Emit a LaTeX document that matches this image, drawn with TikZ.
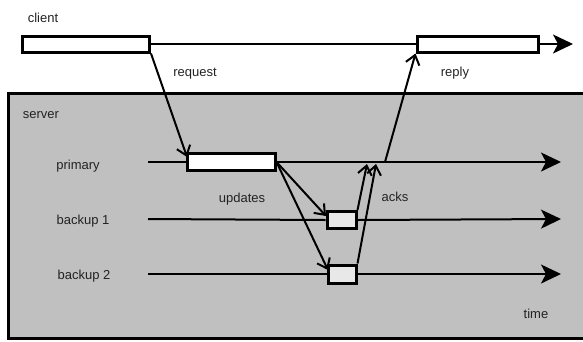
\documentclass[tikz,border=0pt]{standalone}
\usepackage{fontspec}
\setmainfont{Liberation Sans}
\usetikzlibrary{arrows.meta}
\definecolor{servergray}{HTML}{C0C0C0}
\definecolor{backupfill}{HTML}{E8E8E8}
\definecolor{labelink}{HTML}{222222}
\begin{document}
\begin{tikzpicture}[x=1pt,y=-1pt,
  lbl/.style={font=\fontsize{13}{15}\selectfont, text=labelink, inner sep=0pt},
  activity/.style={draw=black, line width=3pt, fill=white, rectangle, inner sep=0pt},
  timeline/.style={line width=2pt},
  timearrow/.style={line width=2pt, -{Stealth[length=20pt,width=19pt,inset=5pt]}},
  msg/.style={line width=2pt, -{Straight Barb[length=9pt,width=14pt,line width=2pt]}}]
\useasboundingbox (0,0) rectangle (583,341);

% server area
\fill[servergray] (8,93) rectangle (600,338);
\draw[line width=3pt] (600,93) -- (8,93) -- (8,338) -- (600,338);

% activity boxes
\node[activity, minimum width=127pt, minimum height=16pt] (clientbox) at (86,44) {};
\node[activity, minimum width=121pt, minimum height=16pt] (replybox) at (477.5,44) {};
\node[activity, minimum width=88pt, minimum height=17pt] (primarybox) at (231,162) {};
\node[activity, fill=backupfill, minimum width=29pt, minimum height=17pt] (bonebox) at (341.5,220) {};
\node[activity, fill=backupfill, minimum width=28pt, minimum height=18pt] (btwobox) at (342,274) {};

% timeline ends
\coordinate (clientend) at (573,44);
\coordinate (pstart) at (148,162);
\coordinate (pend) at (561,162);
\coordinate (bonestart) at (148,219);
\coordinate (boneend) at (561,219);
\coordinate (btwostart) at (148,274);
\coordinate (btwoend) at (561,274);

% message points on the primary timeline
\coordinate (reqtip) at (187,157);
\coordinate (ackone) at (367,164);
\coordinate (acktwo) at (376,164);
\coordinate (replystart) at (385,162);
\coordinate (updone) at (326,216);
\coordinate (updtwo) at (328,270);

% timelines
\draw[timeline] (clientbox.east) -- (replybox.west);
\draw[timearrow] (replybox.east) -- (clientend);
\draw[timeline] (pstart) -- (primarybox.west);
\draw[timearrow] (primarybox.east) -- (pend);
\draw[timeline] (bonestart) -- (bonebox.west);
\draw[timearrow] (bonebox.east) -- (boneend);
\draw[timeline] (btwostart) -- (btwobox.west);
\draw[timearrow] (btwobox.east) -- (btwoend);

% messages
\draw[msg] (clientbox.south east) -- (reqtip);
\draw[msg] (primarybox.east) -- (updone);
\draw[msg] (primarybox.east) -- (updtwo);
\draw[msg] (bonebox.north east) -- (ackone);
\draw[msg] (btwobox.north east) -- (acktwo);
\draw[msg] (replystart) -- (replybox.south west);

% labels
\node[lbl] (clientlbl) at (43,18) {client};
\node[lbl] (requestlbl) at (195,74) {request};
\node[lbl] (replylbl) at (455,73) {reply};
\node[lbl] (serverlbl) at (41,115) {server};
\node[lbl] (primarylbl) at (78,166) {primary};
\node[lbl] (updateslbl) at (242,199) {updates};
\node[lbl] (ackslbl) at (395,197) {acks};
\node[lbl] (bonelbl) at (83,221) {backup 1};
\node[lbl] (btwolbl) at (84,276) {backup 2};
\node[lbl] (timelbl) at (536,314) {time};
\end{tikzpicture}
\end{document}
